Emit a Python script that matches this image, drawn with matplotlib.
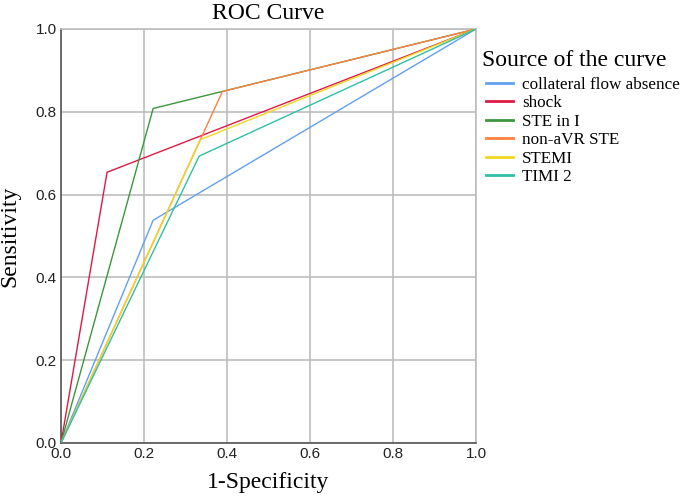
import matplotlib
matplotlib.use("Agg")
import matplotlib.pyplot as plt
from matplotlib.lines import Line2D

# ROC points (1-specificity, sensitivity) for each predictor
names = ["collateral flow absence", "shock", "STE in I", "non-aVR STE", "STEMI", "TIMI 2"]
fpr = [
    [0.0, 0.222, 1.0],
    [0.0, 0.111, 1.0],
    [0.0, 0.222, 1.0],
    [0.0, 0.389, 1.0],
    [0.0, 0.336, 1.0],
    [0.0, 0.333, 1.0],
]
tpr = [
    [0.0, 0.538, 1.0],
    [0.0, 0.654, 1.0],
    [0.0, 0.808, 1.0],
    [0.0, 0.849, 1.0],
    [0.0, 0.733, 1.0],
    [0.0, 0.693, 1.0],
]
colors = ["#62a0f0", "#de1a44", "#3c963c", "#ff8040", "#f0d820", "#2ebfa6"]
ticks = [0.0, 0.2, 0.4, 0.6, 0.8, 1.0]

SERIF = "Liberation Serif"
SANS = "Liberation Sans"

fig = plt.figure(figsize=(6.85, 4.97), dpi=100)
ax = fig.add_axes([61 / 685, 54 / 497, 415 / 685, 414 / 497])

for x, y, c in zip(fpr, tpr, colors):
    ax.plot(x, y, color=c, lw=1.0, solid_joinstyle="miter", zorder=3)

ax.set_xlim(0, 1)
ax.set_ylim(0, 1)
ax.set_xticks(ticks)
ax.set_yticks(ticks)
ax.set_xticklabels([f"{t:.1f}" for t in ticks], fontfamily=SANS, fontsize=11, color="#222222")
ax.set_yticklabels([f"{t:.1f}" for t in ticks], fontfamily=SANS, fontsize=11, color="#222222")
ax.tick_params(length=0, pad=3)
ax.grid(True, color="#bdbdbd", lw=1.2, zorder=0)
ax.set_axisbelow(True)
for s in ["top", "right"]:
    ax.spines[s].set_color("#bdbdbd")
    ax.spines[s].set_linewidth(1.2)
for s in ["left", "bottom"]:
    ax.spines[s].set_color("#555555")
    ax.spines[s].set_linewidth(1.2)

ax.set_title("ROC Curve", fontfamily=SERIF, fontsize=17, pad=7)
ax.set_xlabel("1-Specificity", fontfamily=SERIF, fontsize=17, labelpad=8)
ax.set_ylabel("Sensitivity", fontfamily=SERIF, fontsize=17, labelpad=11)

fig.text(482 / 685, 1 - 61 / 497, "Source of the curve", fontfamily=SERIF, fontsize=17,
         ha="left", va="center")
handles = [Line2D([0], [0], color=c, lw=2.0) for c in colors]
fig.legend(handles, names, loc="upper left", bbox_to_anchor=(486 / 685, 1 - 77 / 497),
           frameon=False, prop={"family": SERIF, "size": 12.3}, handlelength=1.6,
           handletextpad=0.5, labelspacing=0.14, borderpad=0, borderaxespad=0)

fig.savefig("out.png", dpi=100, facecolor="white")
